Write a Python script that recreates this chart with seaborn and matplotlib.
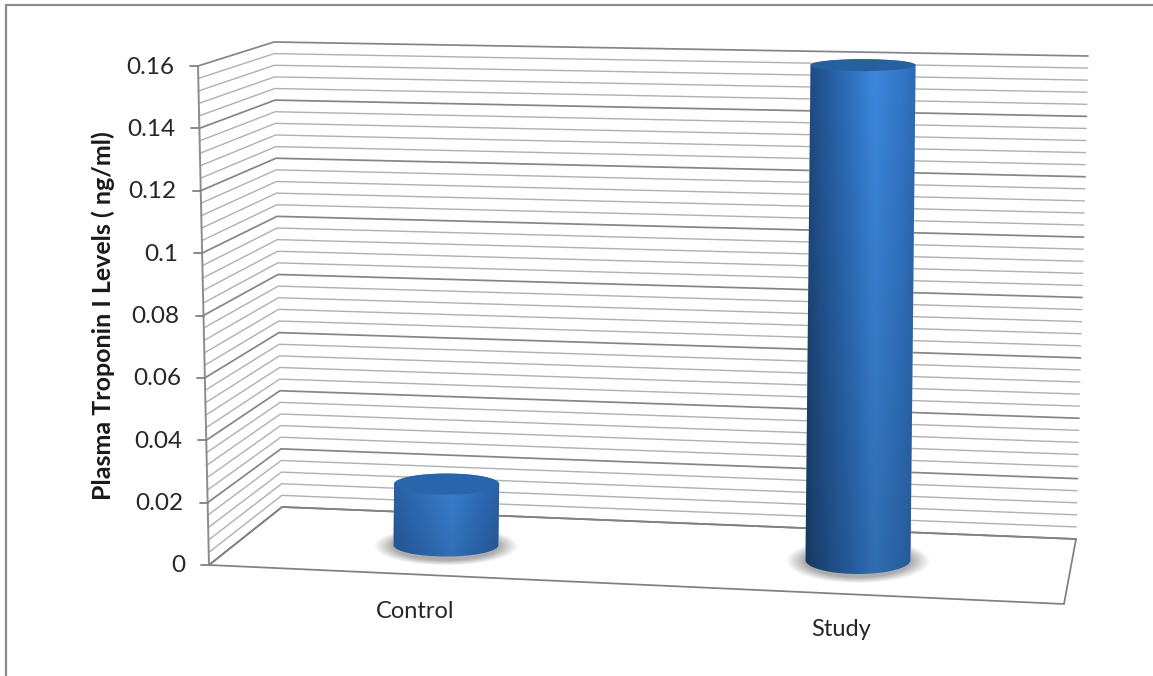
import numpy as np
import pandas as pd
import matplotlib
matplotlib.use('Agg')
import matplotlib.pyplot as plt
import seaborn as sns
from matplotlib.patches import Ellipse, PathPatch, Polygon
from matplotlib.path import Path
from matplotlib.transforms import Affine2D

# Values
groups = ['Control', 'Study']
troponin = [0.0194, 0.1576]
tick_values = [0, 0.02, 0.04, 0.06, 0.08, 0.1, 0.12, 0.14, 0.16]
tick_labels = ['0', '0.02', '0.04', '0.06', '0.08', '0.1', '0.12', '0.14', '0.16']
ylabel = 'Plasma Troponin I Levels ( ng/ml)'

W, H = 1153, 676
AXIS_MAX = 0.16
GRID_STEP = 0.004

sns.set_theme(style='white')
plt.rcParams['font.family'] = ['Lato', 'DejaVu Sans']

fig = plt.figure(figsize=(W / 100, H / 100), dpi=100)
ax = fig.add_axes([0, 0, 1, 1])
df = pd.DataFrame({'group': groups, 'troponin': troponin})
sns.barplot(data=df, x='group', y='troponin', color='#2c6ab3', width=0.255, ax=ax, zorder=3)
bars = list(ax.containers[0])

# fake 3D: (category, value) -> picture pixels
project = Affine2D.from_values(412, 15, 32, -3140, 446, 545)
ax.set_xlim(0, W)
ax.set_ylim(H, 0)
ax.axis('off')


def corner(bottom, top, v):
    t = v / AXIS_MAX
    return np.array(bottom) + (np.array(top) - np.array(bottom)) * t


FRONT_LEFT = ((209, 565), (198, 66))
BACK_LEFT = ((282, 507), (274, 42))
BACK_RIGHT = ((1076, 539), (1088, 56))
FLOOR_FRONT_RIGHT = (1064, 604)

# wall grid, dark on the labelled values
for v in np.arange(0, AXIS_MAX + 1e-9, GRID_STEP):
    major = min(abs(v - t) for t in tick_values) < 1e-9
    pts = np.array([corner(*FRONT_LEFT, v), corner(*BACK_LEFT, v), corner(*BACK_RIGHT, v)])
    ax.plot(pts[:, 0], pts[:, 1], color='#858585' if major else '#b0b0b0',
            lw=1.25 if major else 1.0, zorder=1)

floor = np.array([FRONT_LEFT[0], BACK_LEFT[0], BACK_RIGHT[0], FLOOR_FRONT_RIGHT])
ax.add_patch(Polygon(floor, closed=True, fill=False, ec='#808080', lw=1.25, zorder=1))

left_axis = np.array(FRONT_LEFT)
ax.plot(left_axis[:, 0], left_axis[:, 1], color='#8c8c8c', lw=1.4, zorder=2)

for v, lab in zip(tick_values, tick_labels):
    x, y = corner(*FRONT_LEFT, v)
    ax.plot([x - 8, x], [y, y], color='#808080', lw=1.3, zorder=2)
    ax.text(x - 24, y + 1, lab, ha='right', va='center', fontsize=17.5, color='#262626')

ax.text(103, 316, ylabel, rotation=90, ha='center', va='center',
        fontsize=18, fontweight='bold', color='#1a1a1a')

# outer frame, only left and top show in the crop
ax.plot([6, 6, W], [H, 5, 5], color='#8a8a8a', lw=1.6, zorder=1, solid_joinstyle='miter')

# cylinder look for each bar
body_stops = [
    [(0, '#2a61a6'), (0.15, '#2c69b3'), (0.55, '#3a82d4'), (0.85, '#2d6cb8'), (1, '#2a63aa')],
    [(0, '#1d4373'), (0.12, '#21528e'), (0.45, '#3175c4'), (0.62, '#3d88dd'), (0.85, '#3378c8'), (1, '#2c6ab4')],
]
bottom_shade = [0.85, 0.8]
top_colors = ['#2865aa', '#26609f']
base_semi = [11.5, 14]
label_offsets = [(-31, 67), (-17, 69)]


def hex_rgb(c):
    return np.array(matplotlib.colors.to_rgb(c))


for i, bar in enumerate(bars):
    bar.set_transform(project + ax.transData)
    cat = bar.get_x() + bar.get_width() / 2
    val = bar.get_height()
    half = bar.get_width() / 2 * 412
    bx, by = project.transform((cat, 0))
    tx, ty = project.transform((cat, val))
    bs = base_semi[i]
    ts = bs - 51 * val

    # soft shadow on the floor
    yy, xx = np.mgrid[by - 30:by + 30:120j, bx - 90:bx + 90:360j]
    d = np.sqrt(((xx - bx) / (half + 12)) ** 2 + ((yy - by - 1) / (bs + 6)) ** 2)
    shadow = np.zeros(d.shape + (4,))
    shadow[..., :3] = 0.5
    shadow[..., 3] = 0.65 * np.clip((1.12 - d) / 0.3, 0, 1)
    ax.imshow(shadow, extent=(bx - 90, bx + 90, by + 30, by - 30), origin='upper',
              aspect='auto', zorder=2, interpolation='bilinear')

    # outline of the cylinder, clips the gradient
    t = np.linspace(0, np.pi, 60)
    lower = np.column_stack([bx + half * np.cos(t), by + bs * np.sin(t)])
    upper = np.column_stack([tx - half * np.cos(t), ty - ts * np.sin(t)])
    outline = Path(np.vstack([lower, upper, lower[:1]]))

    frac = np.linspace(0, 1, 200)
    stops = body_stops[i]
    pos = [s[0] for s in stops]
    cols = np.array([hex_rgb(s[1]) for s in stops])
    row = np.column_stack([np.interp(frac, pos, cols[:, k]) for k in range(3)])
    shade = np.linspace(1, bottom_shade[i], 100)[:, None, None]
    img = np.clip(row[None, :, :] * shade, 0, 1)

    left = min(bx, tx) - half - 2
    right = max(bx, tx) + half + 2
    im = ax.imshow(img, extent=(left, right, by + bs + 1, ty - ts - 1), origin='upper',
                   aspect='auto', zorder=3.5, interpolation='bilinear')
    clip = PathPatch(outline, transform=ax.transData, fc='none', ec='none')
    ax.add_patch(clip)
    im.set_clip_path(clip)
    bar.set_clip_path(clip)

    ax.add_patch(Ellipse((tx, ty), 2 * half, 2 * ts, fc=top_colors[i], ec='none', zorder=4))

    dx, dy = label_offsets[i]
    ax.text(bx + dx, by + dy, groups[i], ha='center', va='center',
            fontsize=17, color='#262626')

ax.set_xlim(0, W)
ax.set_ylim(H, 0)

fig.savefig('out.png', dpi=100)
